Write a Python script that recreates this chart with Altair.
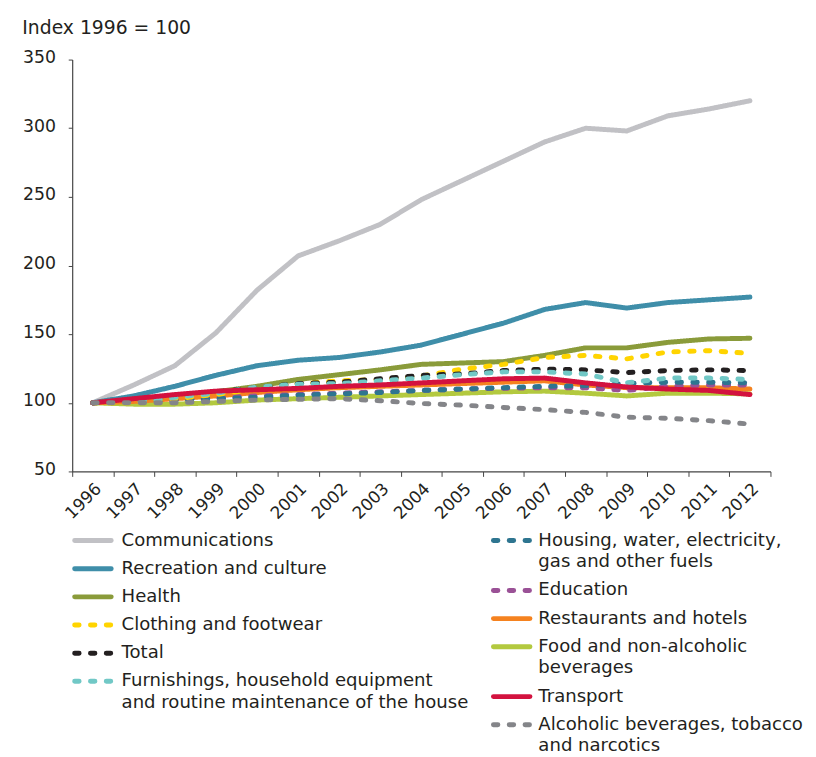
import altair as alt
import pandas as pd

years = list(range(1996, 2013))

communications = [100, 113, 127, 151, 182, 207, 218, 230, 248, 262, 276, 290, 300, 298, 309, 314, 320]
recreation = [100, 105, 112, 120, 127, 131, 133, 137, 142, 150, 158, 168, 173, 169, 173, 175, 177]
health = [100, 102, 104, 108, 112, 117, 120.5, 124, 128, 129, 130, 134.5, 140, 140, 144, 146.5, 147]
clothing = [100, 100, 103, 106, 110, 114, 116, 117, 119.5, 124.5, 128, 133, 134.5, 132, 137, 138, 136]
total = [100, 102, 105, 108, 111, 114, 115, 117.5, 120, 121, 123.5, 124.5, 124, 122, 123.5, 124, 123.5]
furnishings = [100, 101, 104, 107, 111.5, 113.5, 114, 116, 118, 120.5, 122.5, 122.5, 121, 114.5, 118, 118, 117]
housing = [100, 101, 102, 103, 104, 105.5, 106.5, 107.5, 109, 110, 111, 112, 112.5, 114, 115, 115, 114.5]
education = [100, 101, 102, 103.5, 105, 106, 107, 108, 109, 110, 110.5, 111, 111, 109, 112, 113, 113]
restaurants = [100, 101, 103, 105, 107.5, 109.5, 111, 112, 113, 114, 115, 116, 113, 111, 111, 111, 110]
food = [100, 99, 99, 100, 102, 103, 104, 105, 106, 107, 108, 108.5, 107, 105, 107, 107, 106.5]
transport = [100, 103, 106, 108.5, 109.5, 110.5, 112, 113, 114.5, 116, 117.5, 118, 114.5, 111.5, 110, 109, 106]
alcoholic = [100, 100, 100, 101, 102, 102.6, 103, 101.5, 99.5, 98.3, 96.6, 95, 93, 89.5, 88.7, 87, 84.5]

names = {
    "communications": "Communications",
    "recreation": "Recreation and culture",
    "health": "Health",
    "clothing": "Clothing and footwear",
    "total": "Total",
    "furnishings": "Furnishings, household equipment\nand routine maintenance of the house",
    "housing": "Housing, water, electricity,\ngas and other fuels",
    "education": "Education",
    "restaurants": "Restaurants and hotels",
    "food": "Food and non-alcoholic\nbeverages",
    "transport": "Transport",
    "alcoholic": "Alcoholic beverages, tobacco\nand narcotics",
}
values = {
    "communications": communications, "recreation": recreation, "health": health,
    "clothing": clothing, "total": total, "furnishings": furnishings,
    "housing": housing, "education": education, "restaurants": restaurants,
    "food": food, "transport": transport, "alcoholic": alcoholic,
}
colors = {
    "communications": "#c1c1c5", "recreation": "#3f8ea9", "health": "#8a9b3a",
    "clothing": "#ffd400", "total": "#231f20", "furnishings": "#71c8c6",
    "housing": "#2e7590", "education": "#9a5196", "restaurants": "#f5821f",
    "food": "#b3c93f", "transport": "#d3123f", "alcoholic": "#848589",
}
dashed = {"clothing", "total", "furnishings", "housing", "education", "alcoholic"}

left_col = ["communications", "recreation", "health", "clothing", "total", "furnishings"]
right_col = ["housing", "education", "restaurants", "food", "transport", "alcoholic"]
draw_order = ["communications", "recreation", "health", "food", "restaurants", "education",
              "housing", "clothing", "total", "furnishings", "transport", "alcoholic"]

all_keys = left_col + right_col
DASH = [4.5, 11.5]
color_scale = alt.Scale(domain=all_keys, range=[colors[k] for k in all_keys])
dash_scale = alt.Scale(domain=all_keys, range=[DASH if k in dashed else [1, 0] for k in all_keys])

rows = []
for k in draw_order:
    for yr, v in zip(years, values[k]):
        rows.append({"series": k, "year": yr, "value": v})
df = pd.DataFrame(rows)

FONT = "DejaVu Sans"
TXT = "#231f20"

plot = alt.Chart(df).mark_line(strokeWidth=5, strokeCap="round", strokeJoin="round").encode(
    x=alt.X("year:O", bandPosition=0.5,
            scale=alt.Scale(type="band", paddingInner=0, paddingOuter=0),
            axis=alt.Axis(title=None, labelAngle=-45, tickBand="extent", tickSize=5,
                          labelPadding=4, labelFontSize=17, labelFont=FONT, labelColor=TXT,
                          domainColor="#444", tickColor="#444", domainWidth=1.2)),
    y=alt.Y("value:Q", scale=alt.Scale(domain=[50, 350], nice=False, zero=False),
            axis=alt.Axis(values=[50, 100, 150, 200, 250, 300, 350], grid=False,
                          tickSize=4, labelPadding=13, labelFontSize=17.5, labelFont=FONT,
                          labelColor=TXT, labelOffset=-2,
                          domainColor="#444", tickColor="#444", domainWidth=1.2,
                          title="Index 1996 = 100", titleAngle=0, titleAlign="left",
                          titleBaseline="alphabetic", titleX=-51, titleY=-26,
                          titleFontSize=19, titleFont=FONT, titleFontWeight="normal",
                          titleColor=TXT)),
    color=alt.Color("series:N", scale=color_scale, legend=None),
    strokeDash=alt.StrokeDash("series:N", scale=dash_scale, legend=None),
).properties(width=707, height=417)

ROW = 28.5
LINE = 22


def legend_panel(keys, label_x, width):
    recs = []
    pos = 0.0
    for k in keys:
        lab = names[k]
        recs.append({"series": k, "label": lab, "pos": pos})
        pos += ROW + (lab.count("\n")) * LINE
    ldf = pd.DataFrame(recs)
    yenc = alt.Y("pos:Q", scale=alt.Scale(domain=[-15, 215], reverse=True, nice=False, zero=False),
                 axis=None)
    sym = alt.Chart(ldf).mark_rule(strokeWidth=5, strokeCap="round").encode(
        x=alt.value(2.5), x2=alt.value(39.5), y=yenc,
        color=alt.Color("series:N", scale=color_scale, legend=None),
        strokeDash=alt.StrokeDash("series:N", scale=dash_scale, legend=None),
    )
    txt = alt.Chart(ldf).mark_text(align="left", baseline="middle", fontSize=18.3, font=FONT,
                                   color=TXT, lineBreak="\n", lineHeight=LINE).encode(
        x=alt.value(label_x), y=yenc, text="label:N",
    )
    return alt.layer(sym, txt).properties(width=width, height=230)


leg = alt.hconcat(legend_panel(left_col, 50, 400), legend_panel(right_col, 48, 300),
                  spacing=24, bounds="flush")

chart = alt.vconcat(plot, leg, spacing=55, bounds="flush").properties(
    padding={"left": 14, "top": 6.5, "right": 5, "bottom": 5}
).configure_view(stroke=None)

chart.save("out.html", embed_options={"renderer": "svg", "actions": False})
